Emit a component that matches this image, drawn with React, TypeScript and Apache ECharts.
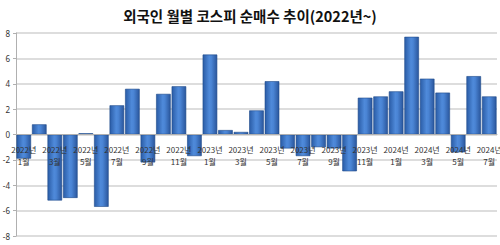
import React, { useEffect, useRef } from "react";
import * as echarts from "echarts";

const months: string[] = [
  "2022년\n1월", "2022년\n2월", "2022년\n3월", "2022년\n4월", "2022년\n5월", "2022년\n6월",
  "2022년\n7월", "2022년\n8월", "2022년\n9월", "2022년\n10월", "2022년\n11월", "2022년\n12월",
  "2023년\n1월", "2023년\n2월", "2023년\n3월", "2023년\n4월", "2023년\n5월", "2023년\n6월",
  "2023년\n7월", "2023년\n8월", "2023년\n9월", "2023년\n10월", "2023년\n11월", "2023년\n12월",
  "2024년\n1월", "2024년\n2월", "2024년\n3월", "2024년\n4월", "2024년\n5월", "2024년\n6월",
  "2024년\n7월",
];

const netBuy: number[] = [
  -1.9, 0.8, -5.2, -5.0, 0.1, -5.7, 2.3, 3.6, -2.2, 3.2, 3.8, -1.7,
  6.3, 0.35, 0.2, 1.9, 4.2, -1.1, -1.7, -1.0, -1.1, -2.9, 2.9, 3.0,
  3.4, 7.7, 4.4, 3.3, -1.4, 4.6, 3.0,
];

const yTicks = { min: -8, max: 8, interval: 2 };
const titleText = "외국인 월별 코스피 순매수 추이(2022년~)";

const GRID_TOP = 33;
const GRID_BOTTOM = 9;
const CHART_H = 245;

export default function App() {
  const ref = useRef<HTMLDivElement>(null);
  useEffect(() => {
    document.body.style.margin = "0";
    if (!ref.current) return;
    const chart = echarts.init(ref.current, null, { renderer: "svg" });
    const barColor = new echarts.graphic.LinearGradient(0, 0, 1, 0, [
      { offset: 0, color: "#2a5ca6" },
      { offset: 0.45, color: "#4f8ada" },
      { offset: 0.6, color: "#4a84d4" },
      { offset: 1, color: "#2a569c" },
    ]);
    // place the category axis at value 0 (onZero does not apply here)
    const plotH = CHART_H - GRID_TOP - GRID_BOTTOM;
    const zeroOffset = -plotH * (0 - yTicks.min) / (yTicks.max - yTicks.min);
    chart.setOption({
      animation: false,
      backgroundColor: "#ffffff",
      title: {
        text: titleText,
        left: "center",
        top: 3,
        textStyle: {
          fontFamily: "Noto Sans CJK KR",
          fontWeight: "bold",
          fontSize: 14.5,
          color: "#111",
        },
      },
      grid: { left: 16, right: 3, top: GRID_TOP, bottom: GRID_BOTTOM, containLabel: false, outerBoundsMode: "none" },
      xAxis: {
        type: "category",
        data: months,
        z: 10,
        position: "bottom",
        offset: zeroOffset,
        axisLine: { onZero: false, lineStyle: { color: "#b0b0b0", width: 1 } },
        axisTick: { show: false },
        axisLabel: {
          interval: 1,
          margin: 9,
          fontSize: 8,
          lineHeight: 12,
          color: "#333",
          fontFamily: "Noto Sans CJK KR",
        },
      },
      yAxis: {
        type: "value",
        min: yTicks.min,
        max: yTicks.max,
        interval: yTicks.interval,
        axisLine: { show: true, lineStyle: { color: "#b0b0b0" } },
        axisTick: { show: true, length: 3, lineStyle: { color: "#b0b0b0" } },
        axisLabel: { fontSize: 8, color: "#333", margin: 6, fontFamily: "Noto Sans" },
        splitLine: { lineStyle: { color: "#d2d2d2", width: 1.5 } },
      },
      series: [
        {
          type: "bar",
          data: netBuy,
          barCategoryGap: "6%",
          itemStyle: {
            color: barColor,
            borderColor: "#1f4a8a",
            borderWidth: 0.6,
          },
        },
      ],
    });
    return () => chart.dispose();
  }, []);
  return <div ref={ref} style={{ width: 500, height: 245 }} />;
}
